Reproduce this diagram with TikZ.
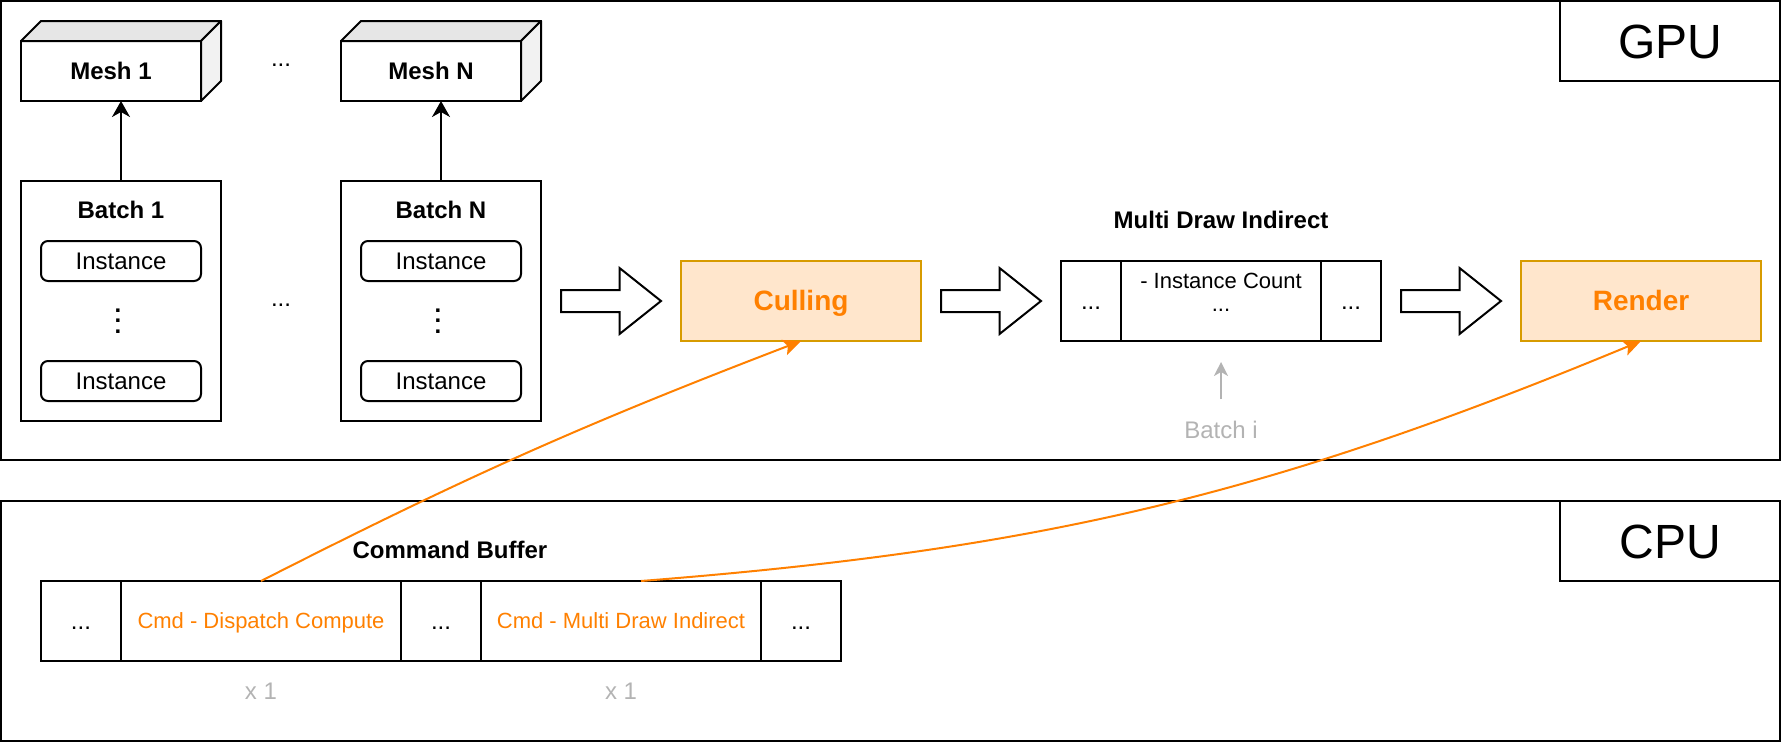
\documentclass[tikz,border=0pt]{standalone}
\usepackage{fontspec}
\setmainfont{Liberation Sans}
\usetikzlibrary{positioning,arrows.meta,shapes.arrows}

\definecolor{cmdorange}{HTML}{FF8000}
\definecolor{passfill}{HTML}{FFE6CC}
\definecolor{passline}{HTML}{D79B00}
\definecolor{hintgray}{HTML}{B3B3B3}
\definecolor{cubetop}{HTML}{E6E6E6}
\definecolor{cubeside}{HTML}{F2F2F2}

\begin{document}
\begin{tikzpicture}[x=0.5pt,y=-0.5pt,line width=1pt,
  txt/.style={font=\fontsize{12}{14.4}\selectfont,text height=8.5pt,text depth=0pt},
  boldtxt/.style={txt,font=\fontsize{12}{14.4}\selectfont\bfseries},
  zone/.style={draw,inner sep=0pt,outer sep=0pt,minimum width=889.5pt},
  zonelabel/.style={draw,inner sep=0pt,outer sep=0pt,minimum width=110pt,minimum height=40pt,anchor=north east,font=\fontsize{24}{28.8}\selectfont,text height=17.5pt,text depth=0pt},
  mesh/.style={draw,boldtxt,fill=white,inner sep=0pt,outer sep=0pt,minimum width=90pt,minimum height=30pt},
  meshtop/.style={draw,fill=cubetop,line join=round},
  meshside/.style={draw,fill=cubeside,line join=round},
  batch/.style={draw,inner sep=0pt,outer sep=0pt,minimum width=100pt,minimum height=120pt},
  inst/.style={draw,txt,rounded corners=3.5pt,inner sep=0pt,outer sep=0pt,minimum width=80pt,minimum height=20pt},
  vdots/.style={font=\fontsize{12}{5.3}\selectfont\bfseries,align=center,inner sep=0pt},
  pass/.style={draw=passline,fill=passfill,text=cmdorange,font=\fontsize{14}{16.8}\selectfont\bfseries,text height=9.8pt,text depth=0pt,inner sep=0pt,outer sep=0pt,minimum width=120pt,minimum height=40pt},
  flow/.style={single arrow,draw,fill=white,anchor=tail,outer sep=0pt,minimum height=50pt,inner xsep=0pt,inner ysep=5pt,text height=0pt,text depth=0pt,single arrow head extend=11pt,single arrow tip angle=77},
  cell/.style={draw,txt,inner sep=0pt,outer sep=0pt,minimum height=40pt,minimum width=30pt},
  cmd/.style={cell,text=cmdorange,font=\fontsize{11}{13.2}\selectfont,text height=7.8pt,minimum width=140pt},
  hint/.style={txt,text=hintgray},
  up/.style={-{Stealth[length=8pt,width=9pt,inset=2.5pt]}},
  hintup/.style={draw=hintgray,-{Stealth[length=7pt,width=7pt,inset=2pt]}},
  cmdlink/.style={draw=cmdorange,-{Stealth[length=9pt,width=8pt,inset=2pt]}}
]
\useasboundingbox (0,0) rectangle (1782,744);

% GPU and CPU zones
\node[zone,minimum height=229.5pt] (gpu) at (890.5,230.5) {};
\node[zone,minimum height=120pt] (cpu) at (890.5,621) {};
\node[zonelabel] (gpulbl) at (gpu.north east) {GPU};
\node[zonelabel] (cpulbl) at (cpu.north east) {CPU};

% meshes
\node[mesh] (m1) at (111,71) {Mesh 1};
\node[mesh] (mN) at (431,71) {Mesh N};
\foreach \m in {m1,mN}{
  \draw[meshtop] (\m.north west) -- ++(20,-20) -- ++(180,0) -- (\m.north east) -- cycle;
  \draw[meshside] (\m.north east) -- ++(20,-20) -- ++(0,60) -- (\m.south east) -- cycle;
}
\node[txt] (mdots) at (281,58) {...};

% batches
\node[batch] (b1) at (121,301) {};
\node[batch] (bN) at (441,301) {};
\node[boldtxt] (b1t) at (121,210) {Batch 1};
\node[boldtxt] (bNt) at (441,210) {Batch N};
\node[inst] (i11) at (121,261) {Instance};
\node[inst] (i12) at (121,381) {Instance};
\node[inst] (iN1) at (441,261) {Instance};
\node[inst] (iN2) at (441,381) {Instance};
\node[vdots] (v1) at (118,321) {.\\.\\.};
\node[vdots] (vN) at (438,321) {.\\.\\.};
\node[txt] (bdots) at (281,298) {...};
\draw[up] (b1.north) -- (b1.north |- m1.south);
\draw[up] (bN.north) -- (bN.north |- mN.south);

% GPU passes
\node[flow] (f1) at (561,301) {};
\node[pass] (cull) at (801,301) {Culling};
\node[flow] (f2) at (941,301) {};
\node[cell] (mdi1) at (1091,301) {...};
\node[cell,minimum width=100pt,right=0pt of mdi1] (mdi2) {};
\node[cell,right=0pt of mdi2] (mdi3) {...};
\node[align=center,anchor=north,inner sep=0pt,font=\fontsize{11}{11.7}\selectfont] (cnt) at (1221,272) {- Instance Count\\...};
\node[boldtxt] (mdit) at (1221,220) {Multi Draw Indirect};
\node[flow] (f3) at (1401,301) {};
\node[pass] (rend) at (1641,301) {Render};
\node[hint] (bi) at (1221,430) {Batch i};
\draw[hintup,shorten <=7.4pt,shorten >=10.5pt] (bi) -- (mdi2);

% command buffer
\node[boldtxt] (cbt) at (450,550) {Command Buffer};
\node[cell,minimum width=40pt] (cb1) at (81,621) {...};
\node[cmd,right=0pt of cb1] (cb2) {Cmd - Dispatch Compute};
\node[cell,minimum width=40pt,right=0pt of cb2] (cb3) {...};
\node[cmd,right=0pt of cb3] (cb4) {Cmd - Multi Draw Indirect};
\node[cell,minimum width=40pt,right=0pt of cb4] (cb5) {...};
\node[hint,below=7pt of cb2] (x2) {x 1};
\node[hint,below=7pt of cb4] (x4) {x 1};

\draw[cmdlink] (cb2.north) to[bend left=3] (cull.south);
\draw[cmdlink] ([xshift=10pt]cb4.north) to[bend right=9] (rend.south);
\end{tikzpicture}
\end{document}
